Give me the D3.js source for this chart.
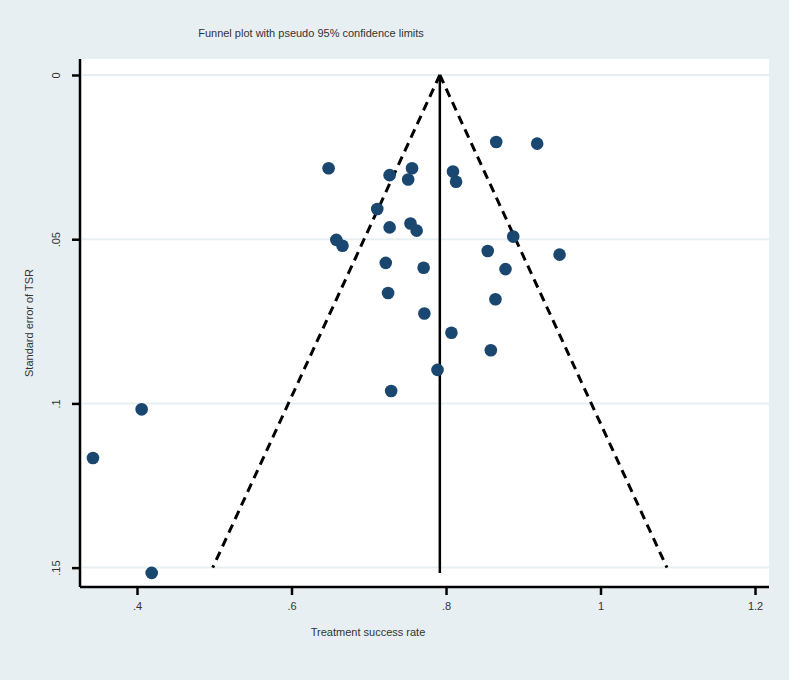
<!DOCTYPE html>
<html>
<head>
<meta charset="utf-8">
<script src="https://cdn.jsdelivr.net/npm/d3@7"></script>
<style>
  body { margin: 0; background: #e8eff2; }
  svg { display: block; font-family: "Liberation Sans", Arial, sans-serif; }
</style>
</head>
<body>
<script>
// study estimates: treatment success rate and its standard error
var tsr = [0.865, 0.918, 0.648, 0.727, 0.756, 0.751, 0.809, 0.813, 0.711, 0.727,
           0.754, 0.762, 0.658, 0.666, 0.887, 0.854, 0.947, 0.722, 0.771, 0.877,
           0.725, 0.864, 0.772, 0.807, 0.858, 0.789, 0.729, 0.406, 0.343, 0.419];
var se  = [0.0204, 0.0209, 0.0284, 0.0305, 0.0284, 0.0318, 0.0294, 0.0325, 0.0408, 0.0464,
           0.0452, 0.0474, 0.0502, 0.0520, 0.0492, 0.0536, 0.0547, 0.0572, 0.0587, 0.0591,
           0.0664, 0.0683, 0.0726, 0.0785, 0.0838, 0.0898, 0.0962, 0.1018, 0.1166, 0.1516];
var pooled = 0.792;
var funnelSe = [0, 0.15];
var xTicks = [0.4, 0.6, 0.8, 1, 1.2];
var yTicks = [0, 0.05, 0.1, 0.15];

var W = 789, H = 680;
var margin = {top: 59, right: 20, bottom: 93, left: 80},
    width = W - margin.left - margin.right,
    height = H - margin.top - margin.bottom;

var svg = d3.select("body").append("svg")
    .attr("width", W).attr("height", H);

svg.append("rect").attr("width", W).attr("height", H).attr("fill", "#e8eff2");

var g = svg.append("g")
    .attr("transform", "translate(" + margin.left + "," + margin.top + ")");

var x = d3.scaleLinear().domain([0.3262, 1.2181]).range([0, width]);
var y = d3.scaleLinear().domain([-0.00487, 0.1559]).range([0, height]);

g.append("rect").attr("width", width).attr("height", height).attr("fill", "#fff");

// gridlines
g.selectAll(".grid").data(yTicks).enter().append("line")
    .attr("x1", 2).attr("x2", width)
    .attr("y1", d => y(d)).attr("y2", d => y(d))
    .attr("stroke", "#e8eff2").attr("stroke-width", 2);

// funnel: pooled estimate and pseudo 95% limits
g.append("line")
    .attr("x1", x(pooled)).attr("x2", x(pooled))
    .attr("y1", y(0)).attr("y2", y(d3.max(se)))
    .attr("stroke", "#000").attr("stroke-width", 2.5);

var lim = d3.line().x(d => x(d[0])).y(d => y(d[1]));
[-1.96, 1.96].forEach(function(z) {
  g.append("path")
    .datum(funnelSe.map(s => [pooled + z * s, s]))
    .attr("d", lim)
    .attr("fill", "none").attr("stroke", "#000")
    .attr("stroke-width", 3).attr("stroke-dasharray", "9,6");
});

// points
g.selectAll(".pt").data(tsr).enter().append("circle")
    .attr("cx", d => x(d))
    .attr("cy", (d, i) => y(se[i]))
    .attr("r", 6.3)
    .attr("fill", "#1a476f");

// stata style labels: drop the leading zero
var fmt = d => String(+d.toFixed(3)).replace(/^0\./, ".");

var xAxis = d3.axisBottom(x).tickValues(xTicks).tickFormat(fmt)
    .tickSize(8).tickPadding(7);
var yAxis = d3.axisLeft(y).tickValues(yTicks).tickFormat(fmt)
    .tickSize(8).tickPadding(10);

var gx = g.append("g").attr("transform", "translate(0," + height + ")").call(xAxis);
var gy = g.append("g").call(yAxis);

[gx, gy].forEach(function(a) {
  a.select(".domain").attr("stroke", "#000").attr("stroke-width", 2.5);
  a.selectAll(".tick line").attr("stroke", "#000").attr("stroke-width", 2.5);
  a.selectAll("text").attr("fill", "#333").style("font-size", "11px");
});
gx.select(".domain").attr("d", "M0,0H" + width);
gy.select(".domain").attr("d", "M0,0V" + height);

gy.selectAll(".tick text")
    .attr("transform", "rotate(-90)")
    .attr("x", 0).attr("y", -24)
    .attr("dy", "0.35em")
    .style("text-anchor", "middle");

// titles
svg.append("text")
    .attr("x", 311).attr("y", 37)
    .attr("text-anchor", "middle")
    .attr("fill", "#333").style("font-size", "11px")
    .text("Funnel plot with pseudo 95% confidence limits");

svg.append("text")
    .attr("x", 368).attr("y", 636)
    .attr("text-anchor", "middle")
    .attr("fill", "#333").style("font-size", "11px")
    .text("Treatment success rate");

svg.append("text")
    .attr("transform", "translate(33," + (margin.top + height / 2) + ") rotate(-90)")
    .attr("text-anchor", "middle")
    .attr("fill", "#333").style("font-size", "11px")
    .text("Standard error of TSR");
</script>
</body>
</html>
